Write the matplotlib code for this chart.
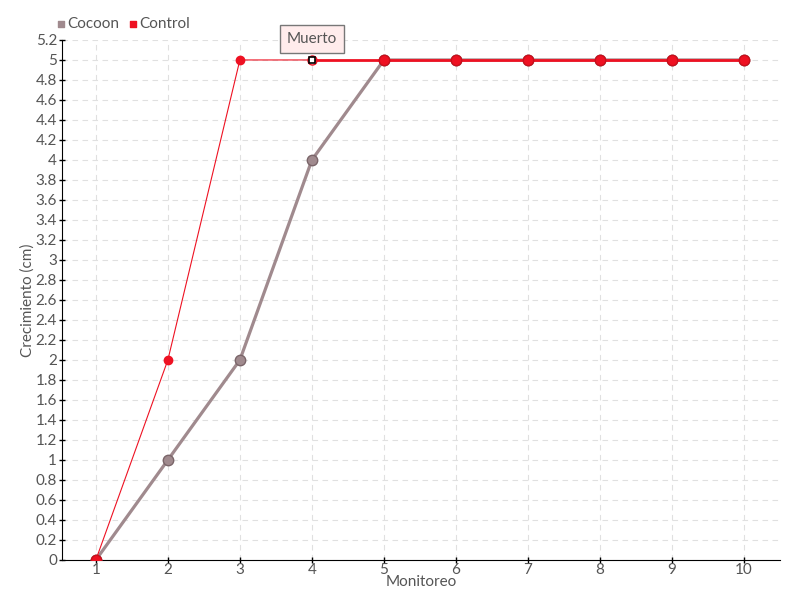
import matplotlib.pyplot as plt
import numpy as np

plt.rcParams['font.family'] = ['Lato', 'DejaVu Sans']

monitoreo = [1, 2, 3, 4, 5, 6, 7, 8, 9, 10]
cocoon = [0, 1, 2, 4, 5, 5, 5, 5, 5, 5]
control = [0, 2, 5, 5, 5, 5, 5, 5, 5, 5]
muerto_idx = 3  # punto marcado "Muerto"

gris = '#555555'
col_cocoon = '#a08a8e'
col_control = '#ee1122'

fig = plt.figure(figsize=(8, 6), dpi=100)
ax = fig.add_axes([0.0775, 0.0667, 0.8975, 0.8667])

ax.set_xlim(0.53, 10.5)
ax.set_ylim(0, 5.2)
ax.set_xticks(monitoreo)
yt = np.round(np.arange(0, 5.21, 0.2), 1)
ax.set_yticks(yt)
ax.set_yticklabels(['%g' % v for v in yt])
ax.grid(True, color='#e0e0e0', linestyle=(0, (5, 4)), linewidth=0.8)
ax.set_axisbelow(True)
for s in ['top', 'right']:
    ax.spines[s].set_visible(False)
for s in ['left', 'bottom']:
    ax.spines[s].set_color('black')
ax.tick_params(colors=gris, labelsize=11, length=5, width=1, direction='inout')
ax.tick_params(axis='x', color='black', pad=0)
ax.tick_params(axis='y', color='black', pad=1)

ax.plot(monitoreo, cocoon, color=col_cocoon, linewidth=2.3, marker='o', markersize=7.5,
        markerfacecolor=col_cocoon, markeredgecolor='#7a6569', markeredgewidth=1, zorder=3)
ax.plot(monitoreo[:4], control[:4], color=col_control, linewidth=0.8, zorder=4)
ax.plot(monitoreo[3:], control[3:], color=col_control, linewidth=2, zorder=4)
ax.plot(monitoreo[1:3], control[1:3], 'o', color=col_control, markersize=6, zorder=5)
ax.plot([monitoreo[0]] + monitoreo[4:], [control[0]] + control[4:], 'o', color=col_control,
        markersize=7.5, markeredgecolor='#c8101c', markeredgewidth=1, zorder=5)
ax.plot(monitoreo[muerto_idx], control[muerto_idx], 'o', markersize=6.5, markerfacecolor='none',
        markeredgecolor=col_control, markeredgewidth=1, zorder=5)
ax.plot(monitoreo[muerto_idx], control[muerto_idx], 's', markersize=4.5, markerfacecolor='white',
        markeredgecolor='black', markeredgewidth=1.2, zorder=6)

ax.annotate('Muerto', xy=(monitoreo[muerto_idx], control[muerto_idx]), xytext=(0, 15),
            textcoords='offset points', ha='center', va='center', fontsize=11, color=gris,
            bbox=dict(boxstyle='square,pad=0.45', fc='#ffecec', ec='#777777', lw=1),
            arrowprops=dict(arrowstyle='-', color='#777777', lw=0.8))

ax.set_xlabel('Monitoreo', color=gris, fontsize=11, labelpad=-1.5)
ax.set_ylabel('Crecimiento (cm)', color=gris, fontsize=11, labelpad=1)

h1 = ax.scatter([], [], marker='s', s=16, color=col_cocoon)
h2 = ax.scatter([], [], marker='s', s=16, color=col_control)
fig.legend([h1, h2], ['Cocoon', 'Control'], loc='upper left', bbox_to_anchor=(0.057, 0.982),
           ncol=2, frameon=False, fontsize=11, handletextpad=-0.2, columnspacing=0.3,
           labelcolor=gris, borderaxespad=0, handlelength=1.2)

fig.savefig('out.png', dpi=100)
